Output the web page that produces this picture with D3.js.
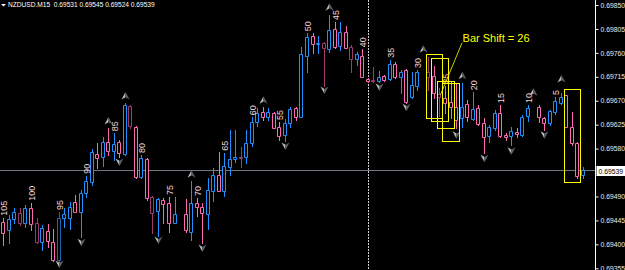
<!DOCTYPE html>
<html>
<head>
<meta charset="utf-8">
<script src="https://cdn.jsdelivr.net/npm/d3@7"></script>
<style>
  html, body { margin: 0; padding: 0; background: #000; overflow: hidden; }
  text { font-family: "Liberation Sans", Arial, sans-serif; }
</style>
</head>
<body>
<div id="chart"></div>
<script>
// NZDUSD M15, oldest bar first (106 bars)
const barOpen = [
  0.69442, 0.69427, 0.69448, 0.69459, 0.69440, 0.69468, 0.69440, 0.69404, 0.69425, 0.69404,
  0.69371, 0.69450, 0.69450, 0.69480, 0.69461, 0.69497, 0.69517, 0.69570, 0.69564, 0.69592,
  0.69576, 0.69592, 0.69570, 0.69660, 0.69621, 0.69527, 0.69560, 0.69489, 0.69463, 0.69483,
  0.69478, 0.69440, 0.69455, 0.69457, 0.69423, 0.69478, 0.69470, 0.69457, 0.69500, 0.69530,
  0.69500, 0.69545, 0.69560, 0.69564, 0.69564, 0.69591, 0.69630, 0.69649, 0.69639, 0.69647,
  0.69621, 0.69606, 0.69628, 0.69656, 0.69639, 0.69754, 0.69792, 0.69777, 0.69779, 0.69767,
  0.69805, 0.69773, 0.69799, 0.69771, 0.69748, 0.69754, 0.69711, 0.69709, 0.69707, 0.69716,
  0.69711, 0.69739, 0.69715, 0.69728, 0.69677, 0.69698, 0.69747, 0.69724, 0.69716, 0.69683,
  0.69675, 0.69668, 0.69658, 0.69638, 0.69664, 0.69636, 0.69656, 0.69628, 0.69604, 0.69619,
  0.69647, 0.69606, 0.69604, 0.69611, 0.69606, 0.69641, 0.69668, 0.69658, 0.69638, 0.69628,
  0.69649, 0.69666, 0.69681, 0.69621, 0.69591, 0.69531
];
const barHigh = [
  0.69450, 0.69455, 0.69468, 0.69468, 0.69474, 0.69478, 0.69450, 0.69436, 0.69438, 0.69429,
  0.69461, 0.69468, 0.69480, 0.69493, 0.69502, 0.69529, 0.69579, 0.69591, 0.69602, 0.69619,
  0.69609, 0.69596, 0.69666, 0.69662, 0.69623, 0.69568, 0.69562, 0.69491, 0.69487, 0.69487,
  0.69489, 0.69489, 0.69461, 0.69485, 0.69519, 0.69487, 0.69478, 0.69525, 0.69544, 0.69574,
  0.69572, 0.69615, 0.69615, 0.69583, 0.69615, 0.69639, 0.69656, 0.69658, 0.69656, 0.69649,
  0.69630, 0.69636, 0.69658, 0.69658, 0.69771, 0.69797, 0.69797, 0.69792, 0.69780, 0.69831,
  0.69818, 0.69818, 0.69810, 0.69775, 0.69762, 0.69767, 0.69713, 0.69733, 0.69726, 0.69718,
  0.69747, 0.69743, 0.69728, 0.69730, 0.69724, 0.69728, 0.69752, 0.69752, 0.69735, 0.69694,
  0.69698, 0.69705, 0.69703, 0.69703, 0.69671, 0.69686, 0.69662, 0.69638, 0.69624, 0.69653,
  0.69662, 0.69609, 0.69621, 0.69619, 0.69643, 0.69662, 0.69671, 0.69662, 0.69639, 0.69653,
  0.69677, 0.69685, 0.69681, 0.69649, 0.69592, 0.69545
];
const barLow = [
  0.69399, 0.69403, 0.69440, 0.69436, 0.69433, 0.69427, 0.69403, 0.69389, 0.69395, 0.69369,
  0.69367, 0.69433, 0.69429, 0.69461, 0.69414, 0.69489, 0.69512, 0.69544, 0.69547, 0.69568,
  0.69559, 0.69564, 0.69568, 0.69619, 0.69525, 0.69525, 0.69483, 0.69421, 0.69416, 0.69440,
  0.69423, 0.69440, 0.69450, 0.69423, 0.69408, 0.69453, 0.69403, 0.69429, 0.69482, 0.69500,
  0.69491, 0.69530, 0.69555, 0.69545, 0.69553, 0.69585, 0.69623, 0.69634, 0.69634, 0.69619,
  0.69596, 0.69594, 0.69621, 0.69634, 0.69639, 0.69724, 0.69760, 0.69760, 0.69698, 0.69762,
  0.69769, 0.69765, 0.69769, 0.69724, 0.69737, 0.69715, 0.69705, 0.69705, 0.69705, 0.69707,
  0.69709, 0.69713, 0.69685, 0.69666, 0.69675, 0.69690, 0.69743, 0.69690, 0.69675, 0.69641,
  0.69647, 0.69638, 0.69619, 0.69621, 0.69632, 0.69634, 0.69624, 0.69572, 0.69592, 0.69615,
  0.69602, 0.69596, 0.69587, 0.69602, 0.69604, 0.69632, 0.69664, 0.69630, 0.69615, 0.69624,
  0.69645, 0.69664, 0.69621, 0.69587, 0.69525, 0.69524
];
const barClose = [
  0.69421, 0.69448, 0.69461, 0.69440, 0.69468, 0.69438, 0.69404, 0.69431, 0.69406, 0.69371,
  0.69450, 0.69457, 0.69470, 0.69461, 0.69497, 0.69519, 0.69574, 0.69562, 0.69592, 0.69576,
  0.69589, 0.69572, 0.69662, 0.69623, 0.69527, 0.69562, 0.69487, 0.69459, 0.69485, 0.69476,
  0.69440, 0.69457, 0.69455, 0.69427, 0.69478, 0.69470, 0.69459, 0.69502, 0.69530, 0.69500,
  0.69547, 0.69560, 0.69564, 0.69562, 0.69591, 0.69630, 0.69647, 0.69639, 0.69649, 0.69619,
  0.69604, 0.69628, 0.69655, 0.69639, 0.69758, 0.69790, 0.69777, 0.69779, 0.69769, 0.69803,
  0.69771, 0.69799, 0.69769, 0.69748, 0.69758, 0.69715, 0.69707, 0.69707, 0.69715, 0.69709,
  0.69739, 0.69715, 0.69724, 0.69668, 0.69700, 0.69724, 0.69747, 0.69715, 0.69685, 0.69677,
  0.69666, 0.69658, 0.69634, 0.69658, 0.69639, 0.69655, 0.69626, 0.69602, 0.69621, 0.69647,
  0.69604, 0.69602, 0.69613, 0.69608, 0.69639, 0.69656, 0.69668, 0.69639, 0.69628, 0.69651,
  0.69670, 0.69677, 0.69621, 0.69591, 0.69528, 0.69539
];
// bars drawn in the darker shade
const dimBars = [3, 6, 10, 23, 27, 43, 58, 63, 67, 77, 79];

// fractal style arrows
const arrowUpBars = [19, 22, 34, 47, 59, 76, 83, 96, 101];
const arrowUpPrices = [0.69632, 0.69679, 0.69532, 0.69671, 0.69846, 0.69767, 0.69717, 0.69686, 0.69711];
const arrowDownBars = [10, 14, 21, 28, 36, 51, 58, 68, 73, 82, 87, 92, 98];
const arrowDownPrices = [0.69363, 0.69404, 0.69555, 0.69408, 0.69393, 0.69585, 0.69690, 0.69696, 0.69658, 0.69606, 0.69562, 0.69576, 0.69606];

// bar count labels (every 5 bars)
const countBars = [0, 5, 10, 15, 20, 25, 30, 35, 40, 45, 50, 55, 60, 65, 70, 75, 80, 85, 90, 95, 100];
const countLabels = ["105", "100", "95", "90", "85", "80", "75", "70", "65", "60", "55", "50", "45", "40", "35", "30", "25", "20", "15", "10", "5"];

// yellow boxes
const boxStart = [77, 78, 79, 80, 102];
const boxEnd = [79, 80, 81, 82, 104];
const boxTop = [0.69758, 0.69750, 0.69707, 0.69703, 0.69692];
const boxBottom = [0.69638, 0.69632, 0.69619, 0.69594, 0.69517];

const noteText = "Bar Shift = 26";
const noteBar = 83, notePrice = 0.69780;
const notePointBar = 79, notePointPrice = 0.69681;

const separatorBar = 66;
const symbol = "NZDUSD.M15";
const yTicks = [0.69850, 0.69805, 0.69760, 0.69715, 0.69670, 0.69625, 0.69580, 0.69490, 0.69445, 0.69400, 0.69355];

(() => {

    var width = 625, height = 270, axisX = 595;
    var upColor = "#1e90ff", downColor = "#ff69b4",
        upDim = "#1b62b0", downDim = "#9c3c6c";

    var svg = d3.select("#chart")
        .append("svg")
        .attr("width", width)
        .attr("height", height)
        .style("display", "block")
        .style("background", "#000");

    var x = d3.scaleLinear()
        .domain([0, barOpen.length - 1])
        .range([3.4, 583]);

    var y = d3.scaleLinear()
        .domain([0.69355, 0.69850])
        .range([268.3, 5]);

    var px = function (k) { return Math.round(x(k)); };
    var py = function (v) { return Math.round(y(v)); };
    var fmt = d3.format(".5f");

    var plot = svg.append("g");

    // day separator
    plot.append("line")
        .attr("x1", px(separatorBar) + 0.5).attr("x2", px(separatorBar) + 0.5)
        .attr("y1", 0).attr("y2", height)
        .attr("stroke", "#d0d0d0")
        .attr("stroke-dasharray", "2,1");

    // bid line
    var last = barClose.length - 1;
    plot.append("line")
        .attr("x1", 0).attr("x2", axisX)
        .attr("y1", py(barClose[last]) + 0.5).attr("y2", py(barClose[last]) + 0.5)
        .attr("stroke", "#6f7882")
        .attr("stroke-width", 1.2);

    // candles
    var bars = d3.range(barOpen.length);
    var colorOf = function (k) {
        var dim = dimBars.indexOf(k) >= 0;
        if (barClose[k] > barOpen[k]) return dim ? upDim : upColor;
        if (barClose[k] < barOpen[k]) return dim ? downDim : downColor;
        return "#000"; // doji drawn in line colour (black)
    };

    plot.selectAll("line.wick")
        .data(bars)
        .enter()
        .append("line")
        .attr("class", "wick")
        .attr("x1", function (k) { return px(k) + 0.5; })
        .attr("x2", function (k) { return px(k) + 0.5; })
        .attr("y1", function (k) { return py(barHigh[k]); })
        .attr("y2", function (k) { return py(barLow[k]) + 1; })
        .attr("stroke", colorOf)
        .attr("shape-rendering", "crispEdges");

    plot.selectAll("path.body")
        .data(bars)
        .enter()
        .append("path")
        .attr("class", "body")
        .attr("d", function (k) {
            var top = py(Math.max(barOpen[k], barClose[k])) + 0.5,
                bot = py(Math.min(barOpen[k], barClose[k])) + 0.5,
                x0 = px(k) - 1.5, x1 = px(k) + 1.5;
            return "M" + x0 + "," + top + "H" + x1 + "V" + bot + "H" + x0 + "Z";
        })
        .attr("fill", "#000")
        .attr("stroke", colorOf);

    // bar counters
    plot.selectAll("text.count")
        .data(countBars)
        .enter()
        .append("text")
        .attr("class", "count")
        .attr("transform", function (k) {
            return "translate(" + (px(k) + 0.5) + "," + (y(barHigh[k]) - 2) + ") rotate(-90)";
        })
        .attr("dominant-baseline", "central")
        .style("font-size", "9px")
        .style("fill", "#f6d6d6")
        .text(function (k, i) { return countLabels[i]; });

    // arrows
    var arrow = function (g, up) {
        var s = up ? 1 : -1;
        g.append("path")
            .attr("d", "M0," + (-4 * s) + "L-4," + (3.5 * s) + "L0," + (1.2 * s) + "Z")
            .attr("fill", "#b8b8b8");
        g.append("path")
            .attr("d", "M0," + (-4 * s) + "L0," + (1.2 * s) + "L4," + (3.5 * s) + "Z")
            .attr("fill", "#5a6068");
    };
    arrowUpBars.forEach(function (k, i) {
        var g = plot.append("g").attr("transform", "translate(" + (px(k) + 0.5) + "," + y(arrowUpPrices[i]) + ")");
        arrow(g, true);
    });
    arrowDownBars.forEach(function (k, i) {
        var g = plot.append("g").attr("transform", "translate(" + (px(k) + 0.5) + "," + y(arrowDownPrices[i]) + ")");
        arrow(g, false);
    });

    // bar shift boxes
    plot.selectAll("rect.box")
        .data(boxStart)
        .enter()
        .append("rect")
        .attr("class", "box")
        .attr("x", function (k) { return Math.round(x(k) - 2.5) + 0.5; })
        .attr("y", function (k, i) { return py(boxTop[i]) + 0.5; })
        .attr("width", function (k, i) { return Math.round(x(boxEnd[i]) + 3) - Math.round(x(k) - 2.5); })
        .attr("height", function (k, i) { return py(boxBottom[i]) - py(boxTop[i]); })
        .attr("fill", "none")
        .attr("stroke", "#ffff00");

    plot.append("line")
        .attr("x1", x(noteBar) + 0.5).attr("y1", y(notePrice) + 0.5)
        .attr("x2", x(notePointBar) + 1).attr("y2", y(notePointPrice))
        .attr("stroke", "#ffff00")
        .attr("stroke-width", 0.8);

    plot.append("text")
        .attr("x", x(noteBar) + 1)
        .attr("y", y(notePrice))
        .style("font-size", "11px")
        .style("fill", "#ffff00")
        .text(noteText);

    // price axis
    svg.append("line")
        .attr("x1", axisX + 0.5).attr("x2", axisX + 0.5)
        .attr("y1", 0).attr("y2", height)
        .attr("stroke", "#ffffff");

    var axis = svg.append("g")
        .attr("transform", "translate(" + (axisX + 0.5) + ",0)")
        .call(d3.axisRight(y).tickValues(yTicks).tickFormat(fmt).tickSize(3).tickPadding(2));
    axis.select(".domain").remove();
    axis.selectAll("line").attr("stroke", "#ffffff");
    axis.selectAll("text")
        .style("font-size", "6.8px")
        .style("font-family", "'Liberation Sans', Arial, sans-serif")
        .attr("fill", "#e8e8e8");

    // current price box
    svg.append("rect")
        .attr("x", axisX + 1.5)
        .attr("y", py(barClose[last]) - 4)
        .attr("width", width - axisX - 1.5)
        .attr("height", 10)
        .attr("fill", "#ffffff");
    svg.append("text")
        .attr("x", axisX + 3.5)
        .attr("y", py(barClose[last]) + 1)
        .attr("dominant-baseline", "central")
        .style("font-size", "6.8px")
        .style("fill", "#000")
        .text(fmt(barClose[last]));

    // header
    svg.append("path")
        .attr("d", "M1,4H6L3.5,6.5Z")
        .attr("fill", "#ffffff");
    svg.append("text")
        .attr("x", 8)
        .attr("y", 6.5)
        .style("font-size", "6.6px")
        .style("fill", "#ffffff")
        .style("white-space", "pre")
        .text(symbol + "  " + [barOpen[last], barHigh[last], barLow[last], barClose[last]].map(fmt).join(" "));

})();
</script>
</body>
</html>
